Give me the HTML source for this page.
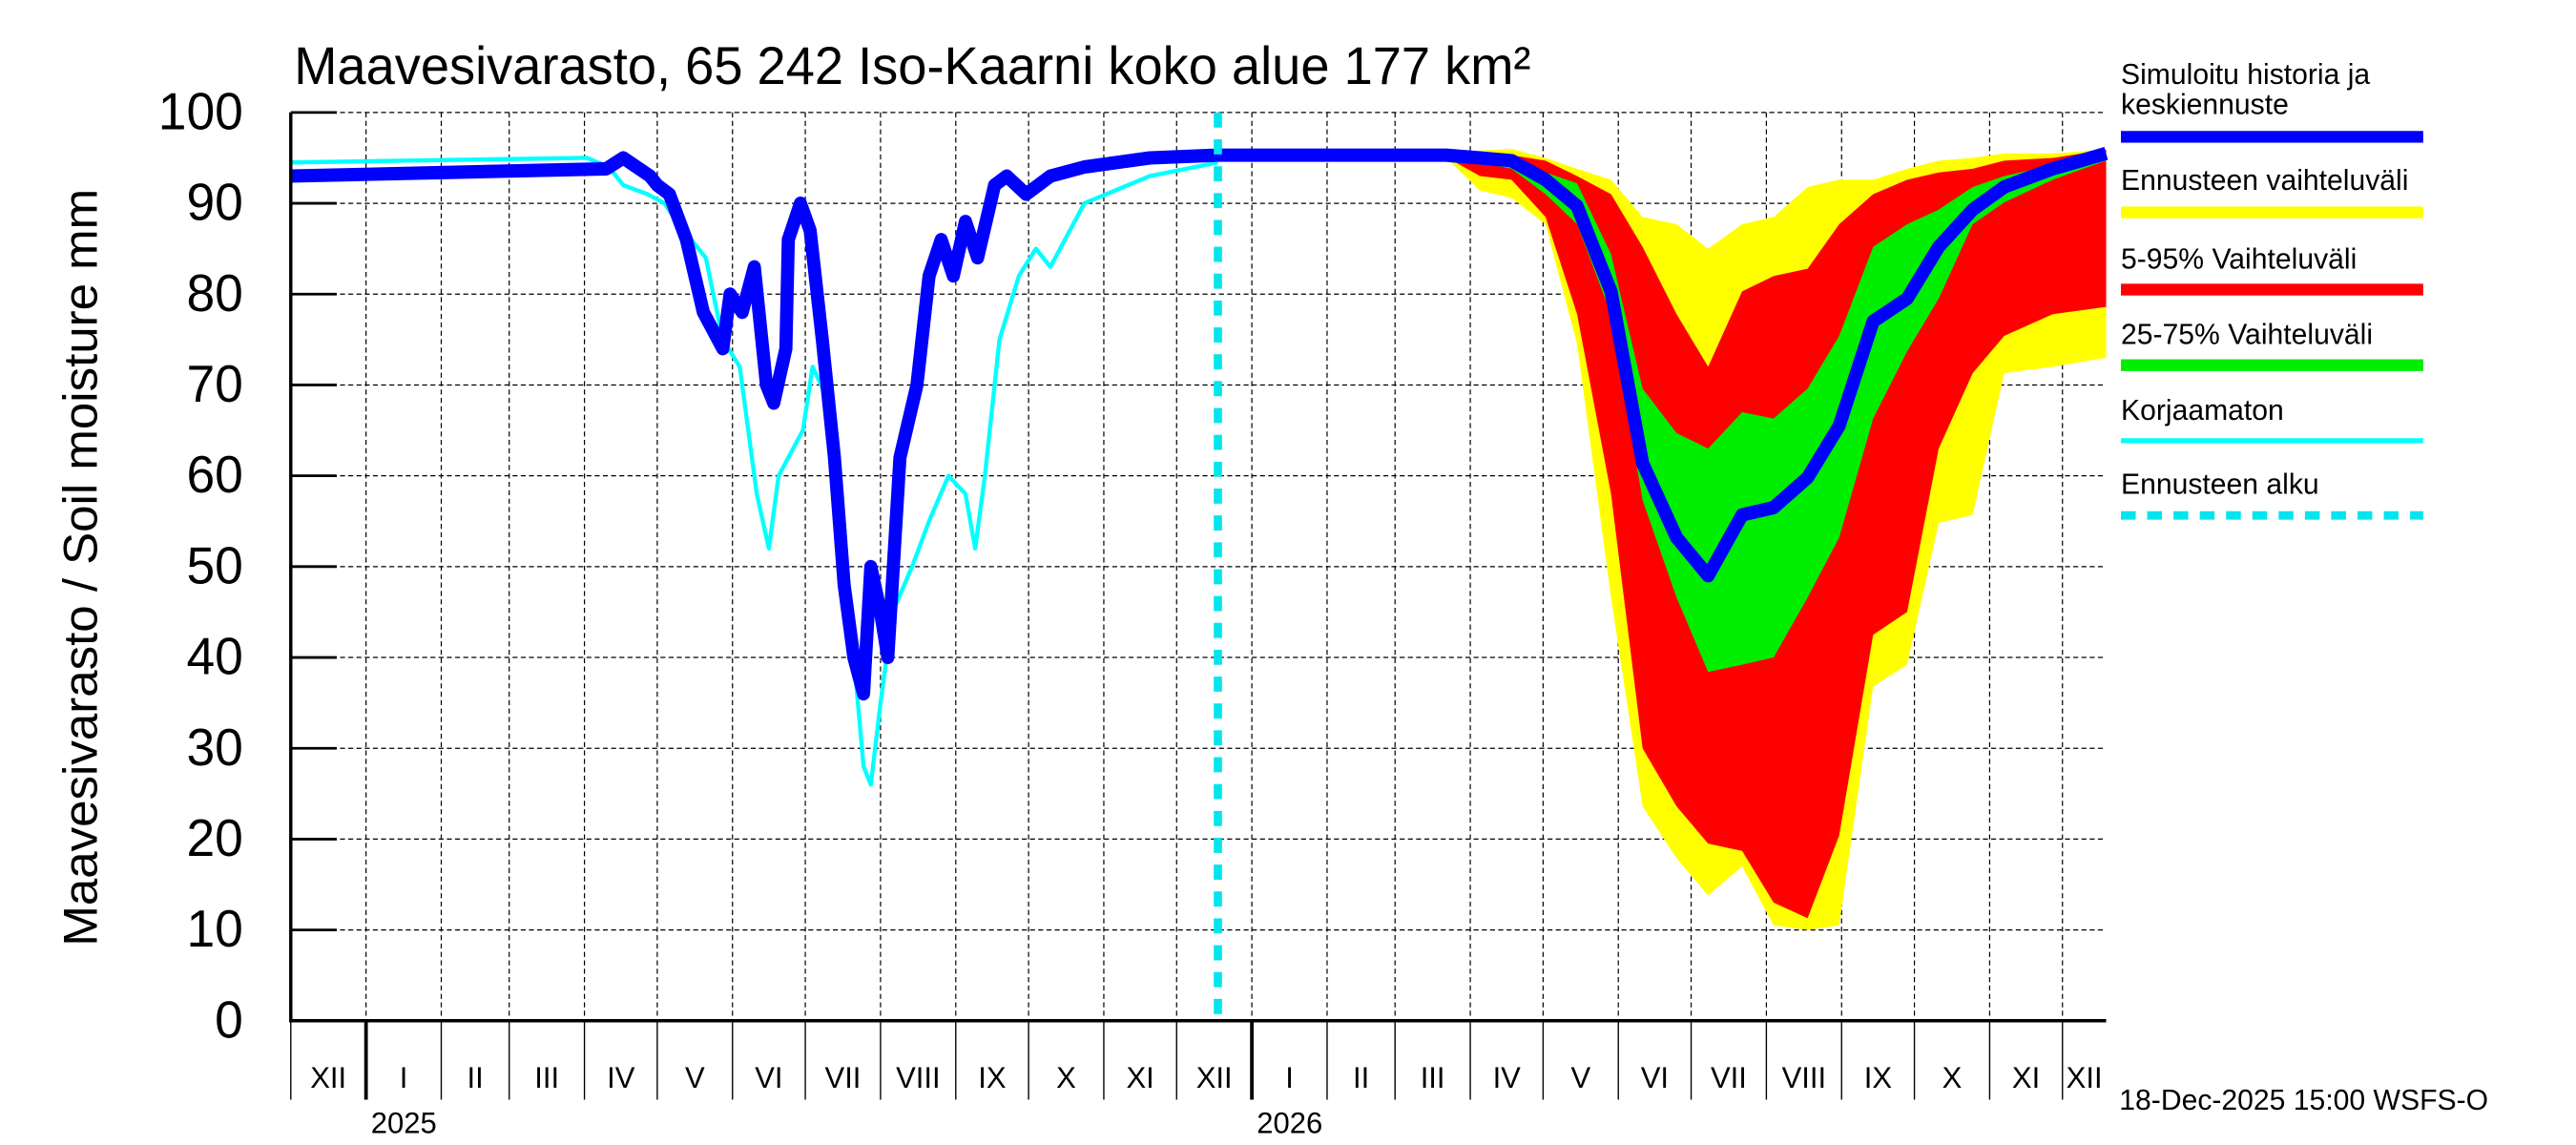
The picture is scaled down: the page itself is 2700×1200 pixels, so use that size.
<!DOCTYPE html>
<html><head><meta charset="utf-8"><style>
html,body{margin:0;padding:0;background:#fff;}
svg{display:block;font-family:"Liberation Sans",Arial,sans-serif;}
</style></head><body>
<svg id="chart" width="2700" height="1200" viewBox="0 0 1568 682" preserveAspectRatio="none" xmlns="http://www.w3.org/2000/svg">
<text x="179" y="50" font-size="31.5">Maavesivarasto, 65 242 Iso-Kaarni koko alue 177 km²</text>
<text transform="translate(59,338) rotate(-90)" text-anchor="middle" font-size="29">Maavesivarasto / Soil moisture   mm</text>
<g id="grid"></g>
<g id="bands"></g>
<g id="lines"></g>
<g id="axes"></g>
<g id="legend">
<text x="1291" y="50" font-size="17.5">Simuloitu historia ja</text>
<text x="1291" y="68" font-size="17.5">keskiennuste</text>
<rect x="1291" y="78" width="184" height="7" fill="#0000ff"/>
<text x="1291" y="113" font-size="17.5">Ennusteen vaihteluväli</text>
<rect x="1291" y="123" width="184" height="7" fill="#ffff00"/>
<text x="1291" y="160" font-size="17.5">5-95% Vaihteluväli</text>
<rect x="1291" y="169" width="184" height="7" fill="#ff0000"/>
<text x="1291" y="205" font-size="17.5">25-75% Vaihteluväli</text>
<rect x="1291" y="214" width="184" height="7" fill="#00ee00"/>
<text x="1291" y="250" font-size="17.5">Korjaamaton</text>
<rect x="1291" y="261" width="184" height="3" fill="#00ffff"/>
<text x="1291" y="294" font-size="17.5">Ennusteen alku</text>
<line x1="1291" y1="307" x2="1475" y2="307" stroke="#00e5ee" stroke-width="5" stroke-dasharray="9,7"/>
</g>
<text x="1290" y="661" font-size="17.5">18-Dec-2025 15:00 WSFS-O</text>
</svg>
<script>
// days since 2024-12-01
const histDays = [0,130,137,148,151,156,163,170,178,181,186,191,196,199,204,205,210,214,219,224,228,232,236,239,243,246,251,258,263,268,273,278,283,290,295,303,313,327,354,382];
const histVals = [93,93.8,95,93,92,91,86,78,74,80,78,83,70,68,74,86,90,87,75,62,48,40,36,50,45,40,62,70,82,86,82,88,84,92,93,91,93,94,95,95.3];
const rawDays = [0,122,131,137,147,154,159,165,171,178,185,187,192,197,201,211,215,222,227,232,236,239,243,248,256,263,271,278,282,286,292,300,307,313,327,354,382];
const rawVals = [94.5,95,94,92,91,90,88,86,84,75,72,68,58,52,60,65,72,68,58,40,28,26,35,45,50,55,60,58,52,60,75,82,85,83,90,93,94.5,95];
const fcDays = [382,476,490,503,517,530,544,557,571,584,598,611,625,638,652,666,679,693,706,726,748];
const fcMin = [95.3,95,91.4,90.6,87.7,74.5,46.6,23.6,17.9,13.8,17,10.5,10,10.5,36.8,39.2,54.8,55.7,71.3,72,73];
const fcP5  = [95.3,95.1,93,92.6,88.5,77.8,58,30,23.6,19.5,18.7,13,11.3,20.4,42.5,45,63,71.3,75.4,77.8,78.6];
const fcP25 = [95.3,95.2,94.5,93.8,91,87.7,77.8,57.3,46.6,38.4,39.2,40,46.6,53.2,66.3,73.7,79.5,87.7,90.1,92.6,94.7];
const fcMed = [95.3,95.3,95,94.7,92.6,89.7,80.3,61.4,53.2,49,55.7,56.5,59.8,65.5,77,79.5,85.2,89.3,91.8,93.8,95.5];
const fcP75 = [95.3,95.3,95.2,95,93.4,92.2,84.4,69.6,64.7,63,67,66.3,69.6,75.4,85.2,87.7,89.3,91.8,93,94.2,95];
const fcP95 = [95.3,95.4,95.4,95.3,94.7,93,91,85.2,77.8,72,80.3,82,82.8,87.7,91,92.6,93.4,93.8,94.7,95,95.9];
const fcMax = [95.3,95.5,95.8,96,95,93.8,92.6,88.5,87.7,85,87.7,88.5,91.8,92.6,92.6,93.8,94.7,95,95.5,95.5,95.9];
const yTicks = [0,10,20,30,40,50,60,70,80,90,100];
const monthLabels = ["XII","I","II","III","IV","V","VI","VII","VIII","IX","X","XI","XII","I","II","III","IV","V","VI","VII","VIII","IX","X","XI","XII"];
const monthStarts = [0,31,62,90,121,151,182,212,243,274,304,335,365,396,427,455,486,516,547,577,608,639,669,700,730];
const yearLabels = ["2025","2026"];
const yearStarts = [31,396];
const forecastStart = 382;
const endDay = 748;

const L=177,R=1282,T=67,B=608;
const xs = d => L + d*(R-L)/endDay;
const ys = v => B - v*(B-T)/100;
const NS="http://www.w3.org/2000/svg";
function mk(tag, parent, attrs){const e=document.createElementNS(NS,tag);for(const k in attrs)e.setAttribute(k,attrs[k]);parent.appendChild(e);return e;}
const grid=document.getElementById('grid'),bands=document.getElementById('bands'),lines=document.getElementById('lines'),axes=document.getElementById('axes');

yTicks.forEach(v=>{
  if(v>0){const g=mk('line',grid,{x1:L,x2:R,y1:ys(v),y2:ys(v),stroke:'#000','stroke-width':0.7,'stroke-dasharray':'3,2'});
  
  }
  const t=mk('line',axes,{x1:L,x2:L+28,y1:ys(v),y2:ys(v),stroke:'#000','stroke-width':1.6});
  
  
  const lb=mk('text',axes,{x:148,y:ys(v)+10,'text-anchor':'end','font-size':31});
  lb.textContent=v;
  
  
});
monthStarts.forEach((d,i)=>{
  const x=xs(d);
  if(i>0){const g=mk('line',grid,{x1:x,x2:x,y1:T,y2:B,stroke:'#000','stroke-width':0.7,'stroke-dasharray':'3,2'});
  
  }
  const isYear=yearStarts.includes(d);
  const tk=mk('line',axes,{x1:x,x2:x,y1:B,y2:655,stroke:'#000','stroke-width':isYear?2.2:0.8});
  
  
  const next=i+1<monthStarts.length?monthStarts[i+1]:endDay;
  const lb=mk('text',axes,{x:(x+xs(next))/2,y:648,'text-anchor':'middle','font-size':18});
  lb.textContent=monthLabels[i];
  
  
});
yearStarts.forEach((d,i)=>{
  const lb=mk('text',axes,{x:xs(d)+3,y:675,'font-size':18});
  lb.textContent=yearLabels[i];
  
  
});
const ax=mk('path',axes,{d:`M${L},${T}V${B}H${R}`,fill:'none',stroke:'#000','stroke-width':2});



function band(lo,hi,color,name){
  let d='M'+fcDays.map((t,i)=>xs(t)+','+ys(hi[i])).join('L');
  for(let i=fcDays.length-1;i>=0;i--)d+='L'+xs(fcDays[i])+','+ys(lo[i]);
  const p=mk('path',bands,{d:d+'Z',fill:color});
  
  
}
band(fcMin,fcMax,'#ffff00','forecast-range-band');
band(fcP5,fcP95,'#ff0000','band-5-95');
band(fcP25,fcP75,'#00ee00','band-25-75');
function line(days,vals,color,w,name){
  const p=mk('path',lines,{d:'M'+days.map((t,i)=>xs(t)+','+ys(vals[i])).join('L'),fill:'none',stroke:color,'stroke-width':w,'stroke-linejoin':'round'});
  
  
}
line(rawDays,rawVals,'#00ffff',2.5,'uncorrected-line');
line(histDays,histVals,'#0000ff',8,'history-line');
line(fcDays,fcMed,'#0000ff',8,'median-forecast-line');
const fs=mk('line',lines,{x1:xs(forecastStart),x2:xs(forecastStart),y1:T,y2:B,stroke:'#00e5ee','stroke-width':5,'stroke-dasharray':'9,7'});


</script>
</body></html>
